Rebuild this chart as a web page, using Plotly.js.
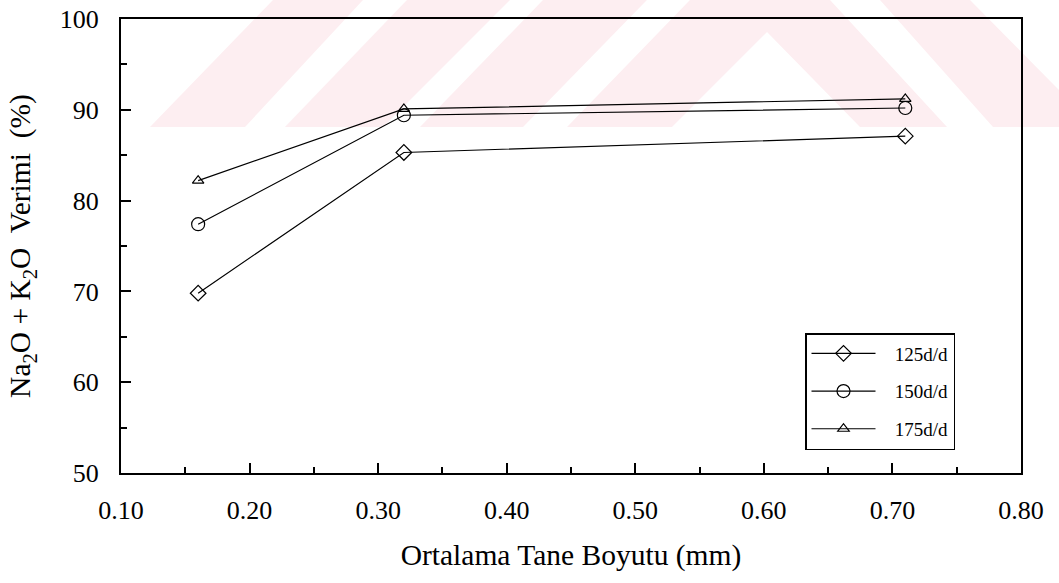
<!DOCTYPE html>
<html>
<head>
<meta charset="utf-8">
<script src="https://cdn.plot.ly/plotly-3.0.1.min.js"></script>
<style>
  html, body { margin: 0; padding: 0; background: #ffffff; }
  #chart { width: 1059px; height: 583px; }
</style>
</head>
<body>
<div id="chart"></div>
<script>
// ---- data ----
var grainSize = [0.16, 0.32, 0.71];               // Ortalama Tane Boyutu (mm)
var yield125 = [69.8, 85.3, 87.1];                // 125 d/d
var yield150 = [77.4, 89.4, 90.2];                // 150 d/d
var yield175 = [82.2, 90.1, 91.2];                // 175 d/d
var seriesNames = ['125d/d', '150d/d', '175d/d'];
var xTickVals = [0.1, 0.2, 0.3, 0.4, 0.5, 0.6, 0.7, 0.8];
var yTickVals = [50, 60, 70, 80, 90, 100];

// ---- decoration (background watermark), pixel polygons ----
var W = 1059, H = 583;
var M = { l: 121, r: 38, t: 19, b: 110 };
var plotW = W - M.l - M.r, plotH = H - M.t - M.b;
var watermark = [
  [[150,127],[273,0],[363,0],[245,127]],
  [[285,127],[407,0],[510,0],[383,127]],
  [[420,127],[543,0],[647,0],[523,127]],
  [[567,127],[690,0],[830,0],[947,127],[860,127],[767,32],[672,127]],
  [[880,0],[970,0],[1059,90],[1059,127],[993,127]]
];
function toPath(poly) {
  return poly.map(function (p, i) {
    var px = (p[0] - M.l) / plotW;
    var py = (H - M.b - p[1]) / plotH;
    return (i === 0 ? 'M' : 'L') + px.toFixed(4) + ',' + py.toFixed(4);
  }).join(' ') + ' Z';
}
var shapes = watermark.map(function (poly) {
  return {
    type: 'path', xref: 'paper', yref: 'paper', layer: 'below',
    path: toPath(poly), fillcolor: '#fdeef1', line: { width: 0 }
  };
});

var serif = '"Liberation Serif", serif';
var symbols = ['diamond-open', 'circle-open', 'triangle-up-open'];
var sizes = [12, 13, 10];
var ys = [yield125, yield150, yield175];
var pad = '\u00a0\u00a0\u00a0';

var traces = ys.map(function (yv, i) {
  return {
    x: grainSize, y: yv, name: pad + seriesNames[i], legendgroup: 'g' + i,
    type: 'scatter', mode: 'lines+markers',
    line: { color: '#000', width: 1.2 },
    marker: { symbol: symbols[i], size: sizes[i], color: '#000', line: { color: '#000', width: 1.2 } },
    cliponaxis: false
  };
});

var layout = {
  width: W, height: H,
  margin: M,
  paper_bgcolor: '#ffffff',
  plot_bgcolor: 'rgba(0,0,0,0)',
  font: { family: serif, color: '#000' },
  shapes: shapes,
  showlegend: true,
  legend: {
    x: (805 - M.l) / plotW, y: (H - M.b - 333) / plotH,
    xanchor: 'left', yanchor: 'top',
    bordercolor: '#000', borderwidth: 1.5, bgcolor: '#ffffff',
    font: { family: serif, size: 19, color: '#000' },
    traceorder: 'grouped', tracegroupgap: 10, itemwidth: 64
  },
  xaxis: {
    range: [0.1, 0.8], tickvals: xTickVals, tickformat: '.2f',
    ticks: 'inside', ticklen: 10, tickwidth: 2, tickcolor: '#000',
    minor: { ticks: 'inside', ticklen: 6, tickwidth: 2, dtick: 0.05, tickcolor: '#000', showgrid: false },
    showline: true, linecolor: '#000', linewidth: 2, mirror: true,
    showgrid: false, zeroline: false,
    tickfont: { family: serif, size: 26, color: '#000' },
    ticklabelstandoff: 13,
    title: { text: 'Ortalama Tane Boyutu (mm)', font: { family: serif, size: 29.5, color: '#000' }, standoff: 20 }
  },
  yaxis: {
    range: [50, 100], tickvals: yTickVals,
    ticks: 'inside', ticklen: 10, tickwidth: 2, tickcolor: '#000',
    minor: { ticks: 'inside', ticklen: 6, tickwidth: 2, dtick: 5, tickcolor: '#000', showgrid: false },
    showline: true, linecolor: '#000', linewidth: 2, mirror: true,
    showgrid: false, zeroline: false,
    tickfont: { family: serif, size: 26, color: '#000' },
    ticklabelstandoff: 15,
    title: { text: 'Na<sub>2</sub>O + K<sub>2</sub>O\u00a0 Verimi\u00a0 (%)', font: { family: serif, size: 29.5, color: '#000' }, standoff: 20 }
  }
};

Plotly.newPlot('chart', traces, layout, { displayModeBar: false, staticPlot: true });
</script>
</body>
</html>
